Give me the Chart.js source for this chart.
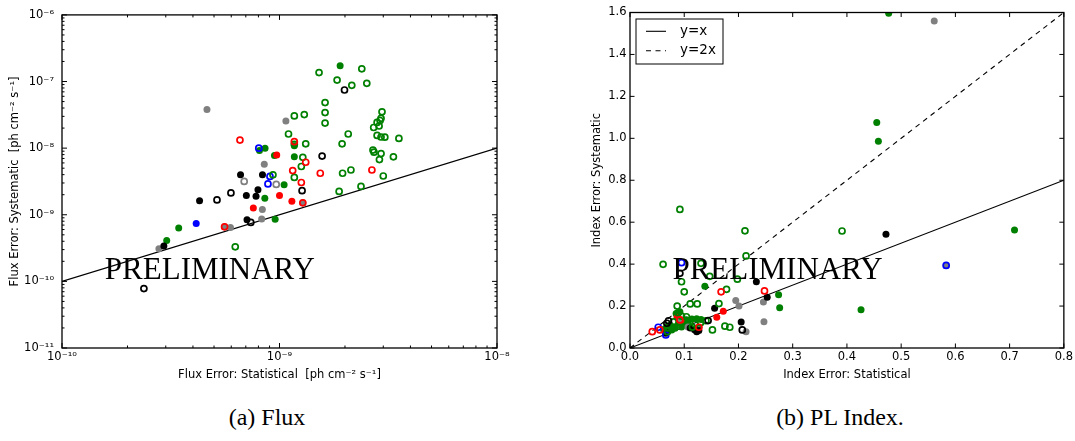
<!DOCTYPE html>
<html>
<head>
<meta charset="utf-8">
<script src="https://cdn.jsdelivr.net/npm/chart.js@4.4.1/dist/chart.umd.min.js"></script>
<style>
  body { margin: 0; background: #fff; width: 1075px; height: 441px; position: relative; overflow: hidden; }
  canvas { position: absolute; top: 0; }
  #flux { left: 0; }
  #index { left: 540px; }
  .cap { position: absolute; top: 405px; width: 300px; text-align: center; font: 24px "Liberation Serif", serif; line-height: 24px; }
</style>
</head>
<body>
<canvas id="flux" width="530" height="386"></canvas>
<canvas id="index" width="535" height="386"></canvas>
<div class="cap" style="left:117px">(a) Flux</div>
<div class="cap" style="left:690px">(b) PL Index.</div>
<script>
// --- panel (a): flux errors, [statistical, systematic] in ph cm^-2 s^-1
const fluxBlackFilled = [[4.29e-10,1.62e-9],[6.62e-10,3.98e-9],[8.35e-10,3.98e-9],[7.96e-10,2.38e-9],[7.04e-10,1.94e-9],[7.8e-10,1.89e-9],[7.09e-10,8.41e-10],[2.94e-10,3.39e-10]];
const fluxBlackOpen = [[5.16e-10,1.67e-9],[5.98e-10,2.13e-9],[7.38e-10,7.67e-10],[2.38e-10,7.8e-11],[1.27e-9,2.3e-9],[1.57e-9,7.6e-9],[1.99e-9,7.46e-8]];
const fluxGrayFilled = [[4.64e-10,3.8e-8],[8.51e-10,5.73e-9],[8.34e-10,1.2e-9],[8.28e-10,8.65e-10],[5.95e-10,6.44e-10],[5.59e-10,6.58e-10],[2.79e-10,3.09e-10],[1.07e-9,2.55e-8],[1.28e-9,1.51e-9]];
const fluxGrayOpen = [[6.88e-10,3.16e-9],[9.66e-10,2.85e-9]];
const fluxRedFilled = [[9.71e-10,7.92e-9],[7.58e-10,1.26e-9],[1.0e-9,1.94e-9],[1.14e-9,1.59e-9]];
const fluxRedOpen = [[6.58e-10,1.32e-8],[1.17e-9,1.25e-8],[1.32e-9,6.14e-9],[1.15e-9,4.61e-9],[1.26e-9,3.05e-9],[1.54e-9,4.2e-9],[2.66e-9,4.7e-9],[5.59e-10,6.58e-10],[1.28e-9,1.51e-9]];
const fluxGreenFilled = [[1.9e-9,1.73e-7],[8.58e-10,1.0e-8],[8.09e-10,9.2e-9],[9.48e-10,7.73e-9],[1.17e-9,7.4e-9],[1.17e-9,1.09e-8],[1.05e-9,2.82e-9],[8.56e-10,1.77e-9],[9.55e-10,8.57e-10],[3.44e-10,6.35e-10],[3.03e-10,4.12e-10]];
const fluxGreenOpen = [[1.52e-9,1.36e-7],[2.39e-9,1.55e-7],[1.84e-9,1.05e-7],[2.15e-9,8.77e-8],[2.52e-9,9.4e-8],
  [1.62e-9,4.83e-8],[1.62e-9,3.42e-8],[1.62e-9,2.38e-8],[1.17e-9,3.05e-8],[1.3e-9,3.19e-8],
  [1.1e-9,1.63e-8],[1.17e-9,1.14e-8],[1.32e-9,1.16e-8],[1.94e-9,1.16e-8],[2.07e-9,1.63e-8],
  [2.96e-9,3.51e-8],[2.9e-9,2.6e-8],[2.81e-9,2.43e-8],[2.93e-9,2.8e-8],[2.87e-9,2.15e-8],[2.71e-9,2.04e-8],
  [2.81e-9,1.55e-8],[2.93e-9,1.47e-8],[3.05e-9,1.46e-8],[3.54e-9,1.4e-8],
  [2.69e-9,9.34e-9],[2.72e-9,8.71e-9],[2.93e-9,8.28e-9],[2.88e-9,6.73e-9],[3.34e-9,7.41e-9],
  [1.28e-9,7.29e-9],[1.26e-9,5.3e-9],[1.95e-9,4.2e-9],[2.13e-9,4.7e-9],[3.0e-9,3.82e-9],
  [2.37e-9,2.66e-9],[1.88e-9,2.24e-9],[9.33e-10,3.98e-9],[1.17e-9,3.63e-9],[6.26e-10,3.3e-10]];
const fluxBlueFilled = [[4.14e-10,7.39e-10]];
const fluxBlueOpen = [[8.03e-10,1.0e-8],[9.04e-10,3.76e-9],[8.85e-10,2.9e-9]];
const fluxLine = [[1e-10,1e-10],[1e-8,1e-8]];

const fluxXTicks = [1e-10, 1e-9, 1e-8];
const fluxXLabels = ['10⁻¹⁰', '10⁻⁹', '10⁻⁸'];
const fluxYTicks = [1e-11, 1e-10, 1e-9, 1e-8, 1e-7, 1e-6];
const fluxYLabels = ['10⁻¹¹', '10⁻¹⁰', '10⁻⁹', '10⁻⁸', '10⁻⁷', '10⁻⁶'];

// --- panel (b): PL index errors, [statistical, systematic]
const indexGreenFilled = [[0.477,1.596],[0.455,1.076],[0.458,0.986],[0.709,0.563],[0.426,0.183],[0.138,0.294],[0.274,0.254],[0.276,0.192],
  [0.085,0.165],[0.092,0.173],[0.087,0.149],[0.104,0.135],[0.114,0.138],[0.123,0.14],[0.131,0.136],[0.068,0.102],[0.077,0.086],
  [0.083,0.094],[0.074,0.11],[0.098,0.11],[0.107,0.125],[0.09,0.12],[0.062,0.088],[0.08,0.1],[0.095,0.1]];
const indexGreenOpen = [[0.391,0.558],[0.092,0.661],[0.212,0.559],[0.214,0.439],[0.061,0.399],[0.131,0.404],[0.095,0.316],[0.1,0.268],
  [0.147,0.342],[0.198,0.328],[0.178,0.28],[0.087,0.2],[0.111,0.21],[0.124,0.21],[0.164,0.212],[0.152,0.086],[0.175,0.104],
  [0.184,0.099],[0.08,0.125],[0.069,0.078],[0.104,0.149],[0.12,0.114],[0.089,0.168],[0.095,0.152],[0.13,0.12],[0.115,0.1],
  [0.07,0.095],[0.14,0.13]];
const indexBlackFilled = [[0.472,0.542],[0.233,0.316],[0.253,0.242],[0.156,0.19],[0.205,0.124],[0.12,0.086],[0.123,0.078],[0.111,0.095],[0.069,0.078],[0.066,0.07],[0.127,0.083]];
const indexBlackOpen = [[0.092,0.356],[0.144,0.131],[0.207,0.086],[0.071,0.13],[0.068,0.118]];
const indexGrayFilled = [[0.561,1.559],[0.583,0.394],[0.246,0.219],[0.195,0.226],[0.201,0.2],[0.247,0.125],[0.214,0.078],[0.107,0.1],[0.127,0.099],[0.092,0.134],[0.118,0.088]];
const indexRedFilled = [[0.172,0.175],[0.16,0.147],[0.094,0.134],[0.087,0.145]];
const indexRedOpen = [[0.168,0.268],[0.248,0.272],[0.127,0.099],[0.092,0.134],[0.041,0.078],[0.055,0.086]];
const indexBlueOpen = [[0.095,0.407],[0.052,0.099],[0.066,0.062],[0.583,0.394]];
const lineX = [0, 0.8];
const lineY1 = [0, 0.8];   // y = x
const lineY2 = [0, 1.6];   // y = 2x

const indexXTicks = [0, 0.1, 0.2, 0.3, 0.4, 0.5, 0.6, 0.7, 0.8];
const indexXLabels = ['0.0', '0.1', '0.2', '0.3', '0.4', '0.5', '0.6', '0.7', '0.8'];
const indexYTicks = [0, 0.2, 0.4, 0.6, 0.8, 1.0, 1.2, 1.4, 1.6];
const indexYLabels = ['0.0', '0.2', '0.4', '0.6', '0.8', '1.0', '1.2', '1.4', '1.6'];

const GREEN = '#008000', BLUE = '#0000ff', RED = '#ff0000', GRAY = '#808080', BLACK = '#000000';

Chart.defaults.font.family = '"DejaVu Sans", sans-serif';
Chart.defaults.color = '#000';

const pts = arr => arr.map(([x, y]) => ({ x, y }));

function marks(data, color, filled) {
  return {
    data: pts(data),
    showLine: false,
    pointRadius: filled ? 3.5 : 3,
    pointHoverRadius: filled ? 3.5 : 3,
    pointBorderWidth: filled ? 0 : 1.7,
    pointBackgroundColor: filled ? color : 'rgba(0,0,0,0)',
    pointBorderColor: color,
    order: filled ? 5 : 2,
    clip: 0
  };
}

function refLine(data, label, dash) {
  return {
    label: label,
    data: pts(data),
    showLine: true,
    borderColor: BLACK,
    borderWidth: 1.1,
    borderDash: dash,
    pointRadius: 0,
    order: 10,
    clip: 0
  };
}

// frame, inward ticks on all four sides, and watermark
const frame = {
  id: 'frame',
  afterDatasetsDraw(chart, args, opts) {
    const { ctx, chartArea: a, scales } = chart;
    ctx.save();
    ctx.strokeStyle = '#000';
    ctx.lineWidth = 1;
    ['x', 'y'].forEach(id => {
      const s = scales[id];
      const list = s.ticks.map(t => [t.value, opts.major]);
      if (s.type === 'logarithmic') {
        for (let e = Math.round(Math.log10(s.min)); e < Math.round(Math.log10(s.max)); e++)
          for (let m = 2; m < 10; m++) list.push([m * Math.pow(10, e), opts.minor]);
      }
      ctx.beginPath();
      list.forEach(([v, len]) => {
        const p = s.getPixelForValue(v);
        if (id === 'x') {
          ctx.moveTo(p, a.bottom); ctx.lineTo(p, a.bottom - len);
          ctx.moveTo(p, a.top); ctx.lineTo(p, a.top + len);
        } else {
          ctx.moveTo(a.left, p); ctx.lineTo(a.left + len, p);
          ctx.moveTo(a.right, p); ctx.lineTo(a.right - len, p);
        }
      });
      ctx.stroke();
    });
    ctx.lineWidth = 1.3;
    ctx.strokeRect(a.left, a.top, a.width, a.height);

    ctx.fillStyle = '#000';
    ctx.font = '31px "Liberation Serif", serif';
    ctx.textAlign = 'center';
    ctx.textBaseline = 'alphabetic';
    ctx.fillText('PRELIMINARY', a.left + a.width * 0.34, a.top + a.height * 0.794);
    ctx.restore();
  }
};

// boxed legend in the upper left corner (matplotlib style)
const boxLegend = {
  id: 'boxLegend',
  afterDatasetsDraw(chart) {
    const { ctx, chartArea: a } = chart;
    const items = chart.data.datasets.filter(d => d.label);
    const x0 = a.left + 6, y0 = a.top + 6.5, w = 87, rowH = 19.4;
    ctx.save();
    ctx.fillStyle = '#fff';
    ctx.fillRect(x0, y0, w, 45);
    ctx.strokeStyle = '#000';
    ctx.lineWidth = 1;
    ctx.strokeRect(x0, y0, w, 45);
    items.forEach((d, i) => {
      const y = y0 + 12.3 + i * rowH;
      ctx.setLineDash(d.borderDash || []);
      ctx.lineWidth = d.borderWidth;
      ctx.beginPath();
      ctx.moveTo(x0 + 10, y); ctx.lineTo(x0 + 30, y);
      ctx.stroke();
      ctx.setLineDash([]);
      ctx.fillStyle = '#000';
      ctx.font = '13.5px "DejaVu Sans", sans-serif';
      ctx.textAlign = 'left';
      ctx.textBaseline = 'middle';
      ctx.fillText(d.label, x0 + 44, y);
    });
    ctx.restore();
  }
};

function axis(opts) {
  return {
    type: opts.type,
    min: opts.min,
    max: opts.max,
    afterBuildTicks: s => { s.ticks = opts.ticks.map(v => ({ value: v })); },
    afterFit: s => { if (opts.width) s.width = opts.width; if (opts.height) s.height = opts.height; },
    grid: { display: false, drawTicks: false },
    border: { display: false },
    ticks: { autoSkip: false, maxRotation: 0, padding: opts.pad, font: { size: 11.5 }, callback: (v, i) => opts.labels[i] },
    title: { display: true, text: opts.title, font: { size: 11.5 }, padding: { top: 4, bottom: 4 } }
  };
}

new Chart(document.getElementById('flux'), {
  type: 'scatter',
  data: {
    datasets: [
      refLine(fluxLine),
      marks(fluxBlackFilled, BLACK, true),
      marks(fluxGrayFilled, GRAY, true),
      marks(fluxRedFilled, RED, true),
      marks(fluxGreenFilled, GREEN, true),
      marks(fluxBlueFilled, BLUE, true),
      marks(fluxBlackOpen, BLACK, false),
      marks(fluxGrayOpen, GRAY, false),
      marks(fluxRedOpen, RED, false),
      marks(fluxGreenOpen, GREEN, false),
      marks(fluxBlueOpen, BLUE, false)
    ]
  },
  options: {
    responsive: false,
    animation: false,
    layout: { padding: { left: 4, top: 12.5, right: 33, bottom: 0 } },
    scales: {
      x: axis({ type: 'logarithmic', min: 1e-10, max: 1e-8, ticks: fluxXTicks, labels: fluxXLabels, height: 38, pad: 2,
        title: 'Flux Error: Statistical  [ph cm⁻² s⁻¹]' }),
      y: axis({ type: 'logarithmic', min: 1e-11, max: 1e-6, ticks: fluxYTicks, labels: fluxYLabels, width: 58, pad: 8,
        title: 'Flux Error: Systematic  [ph cm⁻² s⁻¹]' })
    },
    plugins: { legend: { display: false }, tooltip: { enabled: false }, frame: { major: 5, minor: 2.5 } }
  },
  plugins: [frame]
});

new Chart(document.getElementById('index'), {
  type: 'scatter',
  data: {
    datasets: [
      refLine(lineX.map((x, i) => [x, lineY1[i]]), 'y=x', []),
      refLine(lineX.map((x, i) => [x, lineY2[i]]), 'y=2x', [5, 4.5]),
      marks(indexBlackFilled, BLACK, true),
      marks(indexGrayFilled, GRAY, true),
      marks(indexRedFilled, RED, true),
      marks(indexGreenFilled, GREEN, true),
      marks(indexBlackOpen, BLACK, false),
      marks(indexRedOpen, RED, false),
      marks(indexGreenOpen, GREEN, false),
      marks(indexBlueOpen, BLUE, false)
    ]
  },
  options: {
    responsive: false,
    animation: false,
    layout: { padding: { left: 46, top: 12.5, right: 11, bottom: 0 } },
    scales: {
      x: axis({ type: 'linear', min: 0, max: 0.8, ticks: indexXTicks, labels: indexXLabels, height: 38, pad: 2,
        title: 'Index Error: Statistical' }),
      y: axis({ type: 'linear', min: 0, max: 1.6, ticks: indexYTicks, labels: indexYLabels, width: 44, pad: 3.5,
        title: 'Index Error: Systematic' })
    },
    plugins: { legend: { display: false }, tooltip: { enabled: false }, frame: { major: 4.5, minor: 2 } }
  },
  plugins: [frame, boxLegend]
});
</script>
</body>
</html>
